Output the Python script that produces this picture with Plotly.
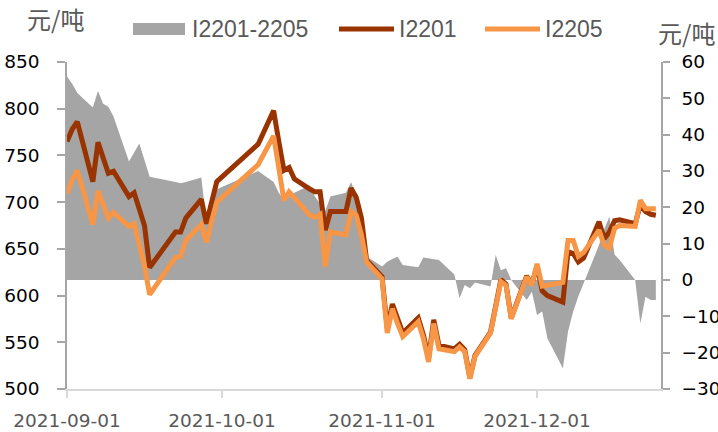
import plotly.graph_objects as go

# ---------------- data ----------------
dates = [
    "2021-09-01", "2021-09-02", "2021-09-03", "2021-09-06", "2021-09-07", "2021-09-08",
    "2021-09-09", "2021-09-10", "2021-09-13", "2021-09-14", "2021-09-15", "2021-09-16",
    "2021-09-17", "2021-09-22", "2021-09-23", "2021-09-24", "2021-09-27", "2021-09-28",
    "2021-09-29", "2021-09-30",
    "2021-10-08", "2021-10-11", "2021-10-12", "2021-10-13", "2021-10-14", "2021-10-15",
    "2021-10-18", "2021-10-19", "2021-10-20", "2021-10-21", "2021-10-22", "2021-10-25",
    "2021-10-26", "2021-10-27", "2021-10-28", "2021-10-29",
    "2021-11-01", "2021-11-02", "2021-11-03", "2021-11-04", "2021-11-05", "2021-11-08",
    "2021-11-09", "2021-11-10", "2021-11-11", "2021-11-12", "2021-11-15", "2021-11-16",
    "2021-11-17", "2021-11-18", "2021-11-19", "2021-11-22", "2021-11-23", "2021-11-24",
    "2021-11-25", "2021-11-26", "2021-11-29", "2021-11-30",
    "2021-12-01", "2021-12-02", "2021-12-03", "2021-12-06", "2021-12-07", "2021-12-08",
    "2021-12-09", "2021-12-10", "2021-12-13", "2021-12-14", "2021-12-15", "2021-12-16",
    "2021-12-17", "2021-12-20", "2021-12-21", "2021-12-22", "2021-12-23", "2021-12-24",
]

i2201 = [
    765, 778, 786, 722, 764, 747, 731, 733, 706, 710, 692, 675, 630, 668, 668, 683, 703, 677, 700, 722,
    762, 798, 765, 734, 737, 725, 714, 711, 711, 670, 690, 690, 715, 705, 683, 638,
    620, 565, 591, 574, 560, 576, 558, 533, 574, 547, 543, 548, 542, 512, 536, 561, 590, 617, 612, 576, 621, 612,
    632, 605, 600, 593, 647, 645, 636, 640, 679, 661, 668, 680, 681, 677, 697, 690, 687, 686,
]

i2205 = [
    709, 724, 734, 676, 712, 697, 683, 689, 674, 677, 653, 632, 601, 641, 642, 659, 676, 657, 680, 700,
    740, 771, 737, 702, 711, 705, 686, 684, 687, 631, 668, 665, 690, 686, 665, 636,
    618, 560, 586, 570, 556, 572, 554, 529, 570, 543, 540, 545, 540, 511, 535, 560, 589, 615, 611, 575, 620, 611,
    634, 610, 611, 614, 659, 659, 642, 646, 670, 654, 651, 672, 675, 674, 702, 693, 693, 693,
]

spread = [
    56, 54, 51.5, 47.5, 52, 48.5, 47.7, 45, 32.6, 35, 37.6, 33, 28.4, 27, 26.6, 27, 28.2, 16, 21, 25,
    30, 27, 24, 22, 23, 24, 26, 23, 21, 19, 23, 24, 27, 23, 13, 6.5,
    3.7, 5, 5.8, 6.4, 4.1, 3.5, 6.2, 6, 5.8, 5.5, 1.5, -5, -1.4, -2.3, -0.7, -1.8, 6.9, 2.7, 3.2, 0, -5.5, -3.2,
    -9.6, -8.7, -16, -24.3, -14.2, -8.7, -4.5, -1, 9.6, 14, 17.4, 7, 5.5, 0, -12, -4.6, -5.5, -5.5,
]

series_names = ["I2201-2205", "I2201", "I2205"]
unit_label = "元/吨"
x_ticks = ["2021-09-01", "2021-10-01", "2021-11-01", "2021-12-01"]

# ---------------- style ----------------
W, H = 718, 432
ML, MR, MT, MB = 67, 57, 62, 43
PW, PH = W - ML - MR, H - MT - MB

C_AREA = "#A5A5A5"
C_I2201 = "#993300"
C_I2205 = "#F79646"
TXT_GRAY = "#595959"
NUM_FONT = dict(family="DejaVu Sans", size=18.5, color="#000000")


def px(x):
    return (x - ML) / PW


def py(y):
    return (H - MB - y) / PH


fig = go.Figure()

# spread area on the right-hand axis (primary y, drawn underneath)
fig.add_trace(go.Scatter(
    x=dates, y=spread, yaxis="y", mode="lines", fill="tozeroy",
    line=dict(width=0, color=C_AREA), fillcolor=C_AREA,
    name=series_names[0], showlegend=False, hoverinfo="skip",
))
# prices on the left-hand axis (overlay, drawn on top)
fig.add_trace(go.Scatter(
    x=dates, y=i2201, yaxis="y2", mode="lines",
    line=dict(width=5, color=C_I2201), name=series_names[1], showlegend=False,
))
fig.add_trace(go.Scatter(
    x=dates, y=i2205, yaxis="y2", mode="lines",
    line=dict(width=5, color=C_I2205), name=series_names[2], showlegend=False,
))

fig.update_layout(
    width=W, height=H,
    margin=dict(l=ML, r=MR, t=MT, b=MB, pad=0, autoexpand=False),
    paper_bgcolor="white", plot_bgcolor="white",
    showlegend=False,
    xaxis=dict(
        type="date", range=["2021-09-01", "2021-12-25"], automargin=False,
        tickvals=x_ticks, ticktext=x_ticks,
        showgrid=False, zeroline=False,
        showline=True, linecolor="#D9D9D9", linewidth=1.5,
        ticks="outside", ticklen=7, tickcolor="#D9D9D9", tickwidth=1.5,
        tickfont=dict(family="DejaVu Sans", size=18.5, color=TXT_GRAY),
        ticklabelstandoff=7,
    ),
    yaxis=dict(
        side="right", range=[-30, 60], dtick=10, tick0=0, automargin=False,
        showgrid=False, zeroline=False,
        showline=True, linecolor="#A6A6A6", linewidth=1.5,
        ticks="outside", ticklen=7, tickcolor="#A6A6A6", tickwidth=1.5,
        tickfont=NUM_FONT, ticklabelstandoff=8,
    ),
    yaxis2=dict(
        overlaying="y", side="left", range=[500, 850], dtick=50, tick0=500, automargin=False,
        showgrid=False, zeroline=False,
        showline=True, linecolor="#A6A6A6", linewidth=1.5,
        ticks="outside", ticklen=8, tickcolor="#A6A6A6", tickwidth=1.5,
        tickfont=NUM_FONT, ticklabelstandoff=14,
    ),
)

# ---------------- legend (manual, to match symbol lengths) ----------------
LEG_Y = 29
fig.add_shape(type="rect", xref="paper", yref="paper",
              x0=px(133), x1=px(185), y0=py(LEG_Y + 6), y1=py(LEG_Y - 6),
              fillcolor=C_AREA, line=dict(width=0))
fig.add_shape(type="line", xref="paper", yref="paper",
              x0=px(339), x1=px(394), y0=py(LEG_Y), y1=py(LEG_Y),
              line=dict(color=C_I2201, width=5))
fig.add_shape(type="line", xref="paper", yref="paper",
              x0=px(485), x1=px(540), y0=py(LEG_Y), y1=py(LEG_Y),
              line=dict(color=C_I2205, width=5))

LEG_FONT = dict(family="Liberation Sans", size=23, color=TXT_GRAY)
for name, x0 in zip(series_names, [190, 397, 543]):
    fig.add_annotation(text=name, xref="paper", yref="paper", x=px(x0), y=py(LEG_Y),
                       xanchor="left", yanchor="middle", showarrow=False, font=LEG_FONT)

UNIT_FONT = dict(family="Noto Sans CJK SC", size=24, color=TXT_GRAY)
fig.add_annotation(text=unit_label, xref="paper", yref="paper", x=px(25), y=py(18),
                   xanchor="left", yanchor="middle", showarrow=False, font=UNIT_FONT)
fig.add_annotation(text=unit_label, xref="paper", yref="paper", x=px(656), y=py(32),
                   xanchor="left", yanchor="middle", showarrow=False, font=UNIT_FONT)

fig.write_html(
    "out.html",
    config={"displayModeBar": False},
    post_script="document.body.style.margin='0';document.body.style.padding='0';",
)
